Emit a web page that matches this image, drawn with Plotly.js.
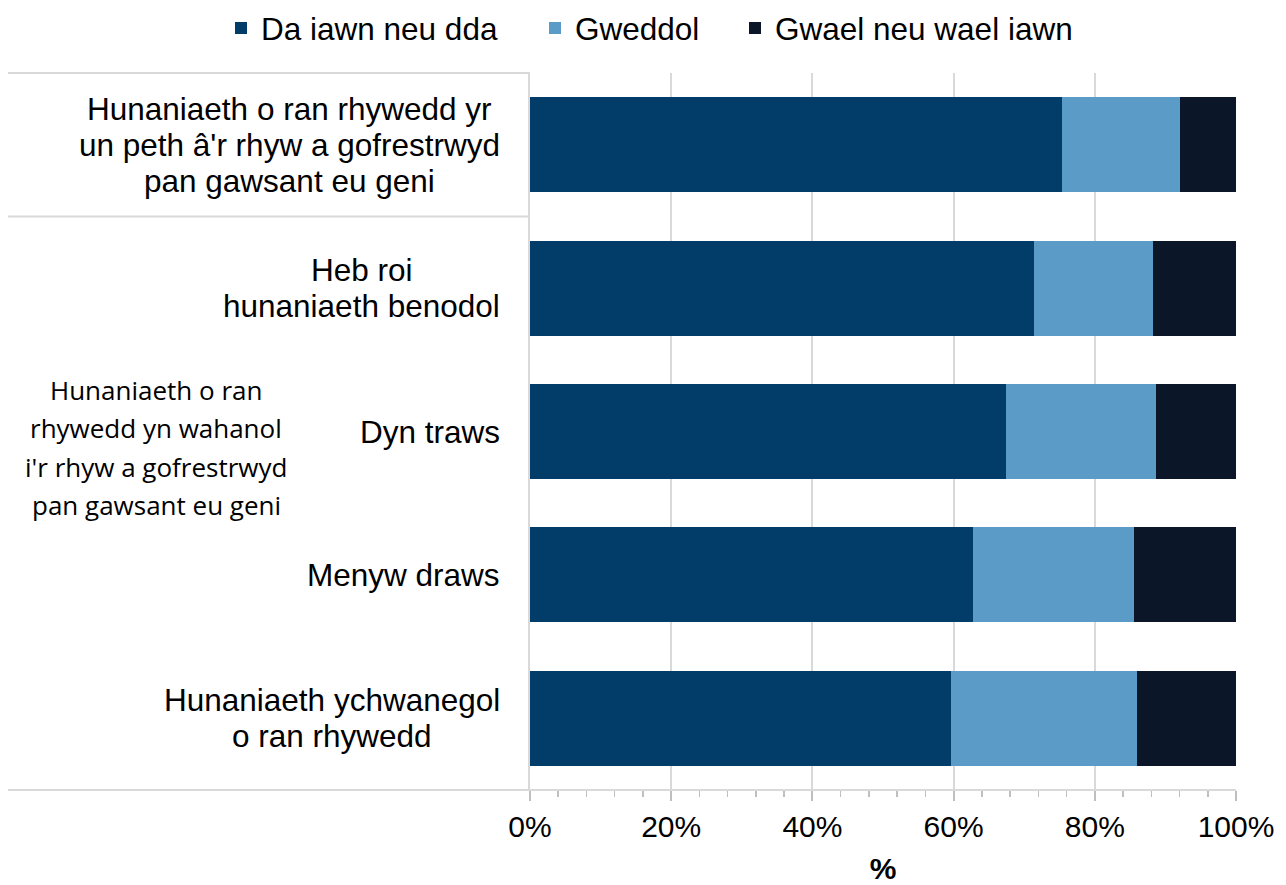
<!DOCTYPE html>
<html>
<head>
<meta charset="utf-8">
<script src="https://cdn.plot.ly/plotly-3.0.1.min.js"></script>
<style>html,body{margin:0;padding:0;background:#fff;}#chart{width:1286px;height:885px;}</style>
</head>
<body>
<div id="chart"></div>
<script>
// ---- data ----
const categories = [
  "Hunaniaeth o ran rhywedd yr<br>un peth â'r rhyw a gofrestrwyd<br>pan gawsant eu geni",
  "Heb roi<br>hunaniaeth benodol",
  "Dyn traws",
  "Menyw draws",
  "Hunaniaeth ychwanegol<br>o ran rhywedd"
];
const seriesNames = ["Da iawn neu dda", "Gweddol", "Gwael neu wael iawn"];
const daIawn  = [75.3, 71.4, 67.4, 62.7, 59.6];
const gweddol = [16.7, 16.8, 21.3, 22.9, 26.4];
const gwael   = [8.0, 11.8, 11.3, 14.4, 14.0];
const groupLabel = ["Hunaniaeth o ran", "rhywedd yn wahanol", "i'r rhyw a gofrestrwyd", "pan gawsant eu geni"];
const xTickVals = [0, 20, 40, 60, 80, 100];
const xTickText = ["0%", "20%", "40%", "60%", "80%", "100%"];
const axisTitle = "%";

// ---- styles ----
const colors = ["#023c69", "#5b9bc8", "#0b1729"];
const fontMain = "Liberation Sans, Arial, sans-serif";
const fontGroup = "Open Sans, Calibri, sans-serif";
const lineCol = "#d9d9d9";
const W = 1286, H = 885, ML = 530, MR = 50, MT = 73, MB = 95;
const plotW = W - ML - MR, plotH = H - MT - MB;

const vals = [daIawn, gweddol, gwael];
const legendIds = ["legend", "legend2", "legend3"];
const traces = vals.map((v, i) => ({
  type: "bar", orientation: "h", name: seriesNames[i],
  x: v, y: categories.map((c, k) => k),
  marker: {color: colors[i], line: {width: 0}},
  legend: legendIds[i],
  hoverinfo: "x+name"
}));

// measure text for centered multi-line labels
const cvs = document.createElement("canvas").getContext("2d");
function measure(t, size, fam) { cvs.font = size + "px " + fam; return cvs.measureText(t).width; }

const catSize = 31.5, catSpacing = 36;
const annotations = [];
categories.forEach((c, k) => {
  const lines = c.split("<br>");
  const maxW = Math.max(...lines.map(l => measure(l, catSize, "'Liberation Sans'")));
  const cx = -30 - maxW / 2;
  lines.forEach((l, j) => {
    const off = (j - (lines.length - 1) / 2) * catSpacing;
    annotations.push({
      xref: "paper", yref: "y", x: 0, y: k, xshift: cx, yshift: -off,
      xanchor: "center", yanchor: "middle", text: l, showarrow: false,
      font: {family: fontMain, size: catSize, color: "#000"}
    });
  });
});
const gSize = 26, gSpacing = 38.5, gCenterX = 156 - ML, gCenterShift = -16;
groupLabel.forEach((l, j) => {
  const off = (j - (groupLabel.length - 1) / 2) * gSpacing;
  annotations.push({
    xref: "paper", yref: "y", x: 0, y: 2, xshift: gCenterX, yshift: gCenterShift - off,
    xanchor: "center", yanchor: "middle", text: l, showarrow: false,
    font: {family: fontGroup, size: gSize, color: "#000"}
  });
});

const leftX = (8 - ML) / plotW;
const shapes = [
  {type: "line", xref: "paper", yref: "paper", x0: leftX, x1: 1, y0: 0, y1: 0, line: {color: lineCol, width: 2}},
  {type: "line", xref: "paper", yref: "paper", x0: leftX, x1: 0, y0: 1, y1: 1, line: {color: lineCol, width: 2}},
  {type: "line", xref: "paper", yref: "y", x0: leftX, x1: 0, y0: 0.5, y1: 0.5, line: {color: lineCol, width: 2}}
];

const layout = {
  width: W, height: H,
  margin: {l: ML, r: MR, t: MT, b: MB, pad: 0, autoexpand: false},
  paper_bgcolor: "#fff", plot_bgcolor: "#fff",
  barmode: "stack", bargap: 0.337,
  showlegend: true,
  xaxis: {
    range: [0, 100], tickvals: xTickVals, ticktext: xTickText,
    showgrid: true, gridcolor: lineCol, gridwidth: 2,
    zeroline: false, showline: false,
    ticks: "outside", ticklen: 10, tickwidth: 2, tickcolor: "#bfbfbf",
    minor: {dtick: 4, ticks: "outside", ticklen: 6, tickwidth: 1.5, tickcolor: "#bfbfbf", showgrid: false},
    tickfont: {family: fontMain, size: 30, color: "#000"},
    title: {text: axisTitle, font: {family: fontMain, size: 30, color: "#000", weight: "bold"}, standoff: 21},
    fixedrange: true
  },
  yaxis: {
    type: "linear", range: [4.5, -0.5], showticklabels: false, showgrid: false, zeroline: false,
    showline: true, linecolor: lineCol, linewidth: 2, ticks: "", fixedrange: true
  },
  annotations: annotations, shapes: shapes
};
const symbolCenters = [244, 558, 758];
legendIds.forEach((id, i) => {
  layout[id] = {
    orientation: "h", xref: "paper", yref: "paper",
    x: (symbolCenters[i] - 23 - ML) / plotW, xanchor: "left",
    y: 1 + (MT - 28) / plotH, yanchor: "middle",
    font: {family: fontMain, size: 31.5, color: "#000"},
    itemwidth: 30, itemclick: false, bgcolor: "rgba(0,0,0,0)", borderwidth: 0
  };
});

Plotly.newPlot("chart", traces, layout, {displayModeBar: false, staticPlot: true});
</script>
</body>
</html>
